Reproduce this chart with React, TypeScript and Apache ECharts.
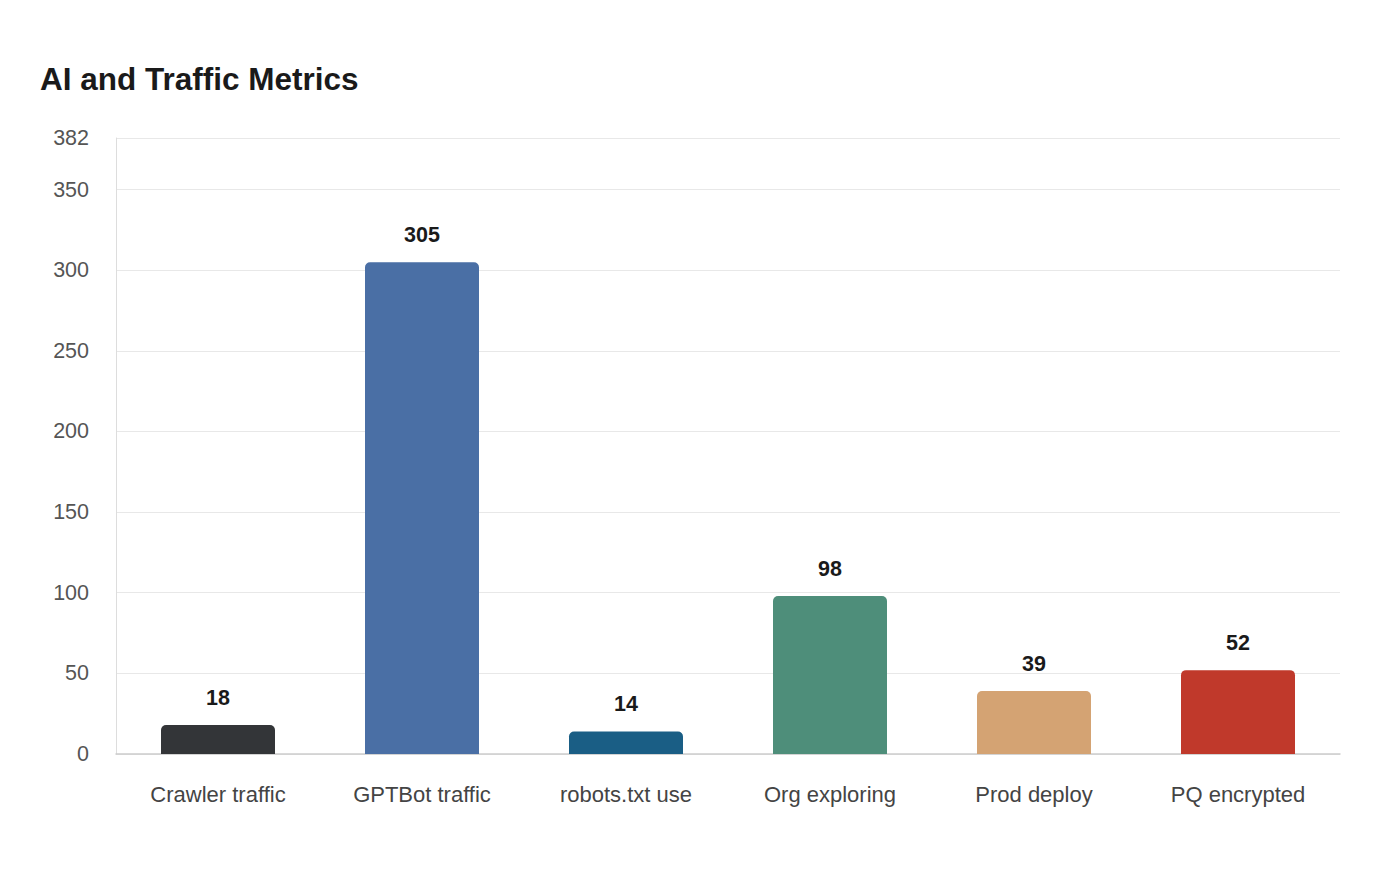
import React, { useEffect, useRef } from "react";
import * as echarts from "echarts";

const categories = ["Crawler traffic", "GPTBot traffic", "robots.txt use", "Org exploring", "Prod deploy", "PQ encrypted"];
const values = [18, 305, 14, 98, 39, 52];
const colors = ["#333538", "#4a6fa5", "#1a5e85", "#4e8e7a", "#d4a373", "#c0392b"];

export default function App() {
  const ref = useRef<HTMLDivElement>(null);
  useEffect(() => {
    if (!ref.current) return;
    const chart = echarts.init(ref.current, undefined, { renderer: "svg" });
    chart.setOption({
      animation: false,
      backgroundColor: "#ffffff",
      textStyle: { fontFamily: "Liberation Sans, Arial, sans-serif" },
      title: {
        text: "AI and Traffic Metrics",
        left: 27,
        top: 50,
        textStyle: { fontSize: 31.5, fontWeight: "bold", color: "#1a1a1a", fontFamily: "Liberation Sans, Arial, sans-serif" },
      },
      grid: { left: 108, right: 52, top: 130, bottom: 118, containLabel: false },
      xAxis: {
        type: "category",
        data: categories,
        axisLine: { show: true, lineStyle: { color: "#cccccc", width: 1.5 } },
        axisTick: { show: false },
        axisLabel: { color: "#444444", fontSize: 22, margin: 29 },
        splitLine: { show: false },
      },
      yAxis: {
        type: "value",
        min: 0,
        max: 382,
        interval: 50,
        axisLine: { show: true, lineStyle: { color: "#dddddd", width: 1 } },
        axisTick: { show: false },
        axisLabel: { color: "#555555", fontSize: 21.5, margin: 27 },
        splitLine: { show: true, lineStyle: { color: "#e8e8e8", width: 1 } },
      },
      series: [
        {
          type: "bar",
          barWidth: 114,
          data: values.map((v, i) => ({ value: v, itemStyle: { color: colors[i] } })),
          itemStyle: { borderRadius: [5, 5, 0, 0] },
          label: {
            show: true,
            position: "top",
            distance: 16,
            fontSize: 21.5,
            fontWeight: "bold",
            color: "#1a1a1a",
          },
        },
      ],
    });
    return () => chart.dispose();
  }, []);
  return <div ref={ref} style={{ width: 1384, height: 864 }} />;
}
